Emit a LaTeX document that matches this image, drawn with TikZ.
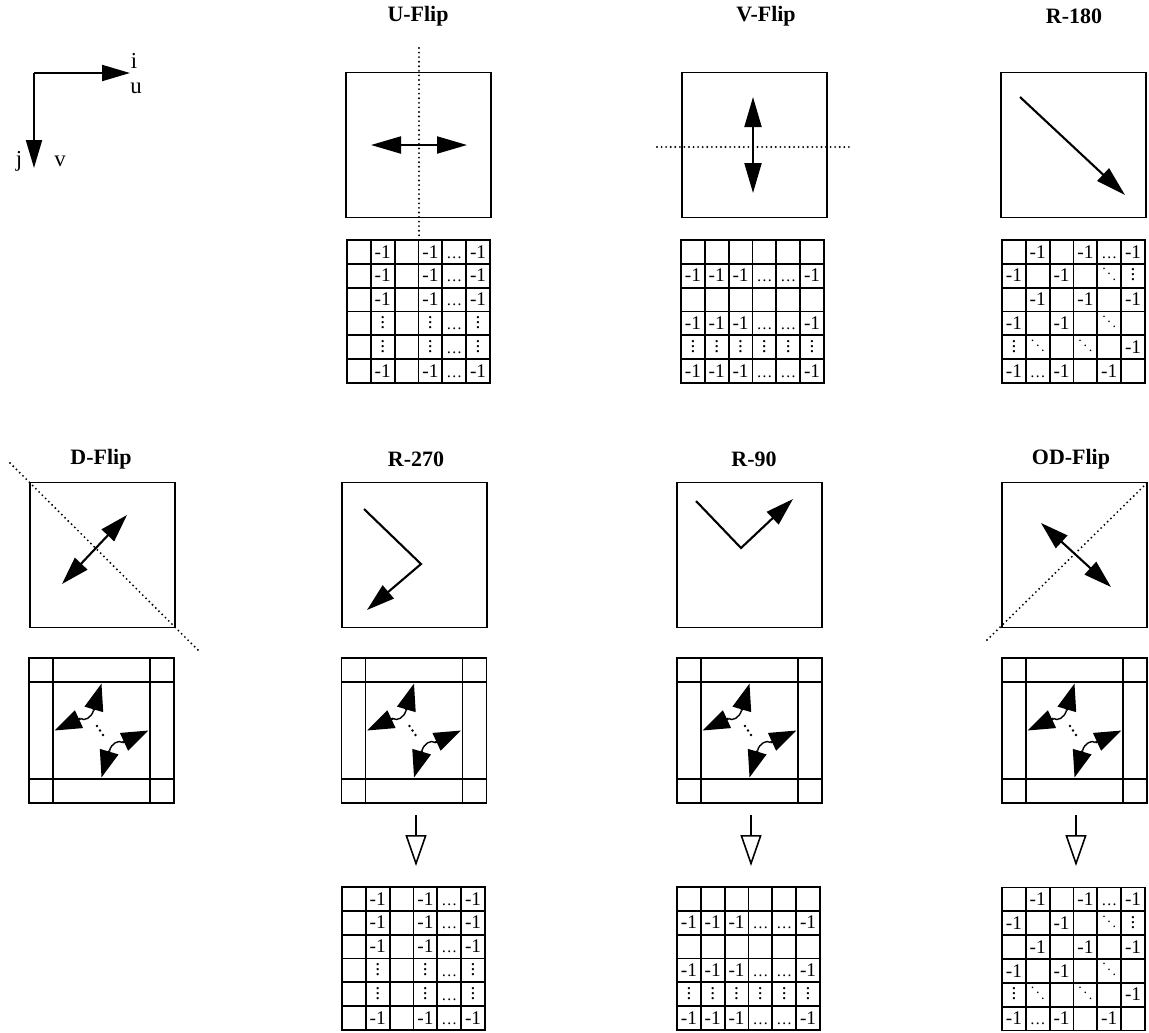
\documentclass[tikz,border=0pt]{standalone}
\usepackage{fontspec}
\setmainfont{Liberation Serif}
\usetikzlibrary{arrows.meta,calc}
\newcommand\cellfnt{\fontsize{11}{11}\selectfont}
\newcommand\vd{\raisebox{0.6pt}{\vbox{\baselineskip2.9pt\lineskiplimit-5pt\hbox{.}\hbox{.}\hbox{.}}}}
\newcommand\mydd{{\fontsize{8}{8}\selectfont$\ddots$}}
\newcommand\myel{{\fontsize{9}{9}\selectfont\ldots}}
% grid lines: #1 x0, #2 y0
\newcommand\gridlines[2]{%
  \foreach \k in {0,...,6}{%
    \draw[gl] ({#1+\k*23.83},#2) -- ++(0,143);
    \draw[gl] (#1,{#2+\k*23.83}) -- ++(143,0);}}
% one row of cells: #1 name, #2 x0, #3 y0 of grid, #4 row index, #5 list
\newcommand\cellrow[5]{%
  \foreach \t [count=\c] in {#5}{%
    \node[cell] (#1-#4-\c) at ({#2+(\c-0.5)*23.83},{#3+(#4-0.5)*23.83}) {\t};}}
\newcommand\ugrid[3]{%
  \gridlines{#2}{#3}
  \cellrow{#1}{#2}{#3}{1}{{},-1,{},-1,\myel,-1}
  \cellrow{#1}{#2}{#3}{2}{{},-1,{},-1,\myel,-1}
  \cellrow{#1}{#2}{#3}{3}{{},-1,{},-1,\myel,-1}
  \cellrow{#1}{#2}{#3}{4}{{},\vd,{},\vd,\myel,\vd}
  \cellrow{#1}{#2}{#3}{5}{{},\vd,{},\vd,\myel,\vd}
  \cellrow{#1}{#2}{#3}{6}{{},-1,{},-1,\myel,-1}}
\newcommand\vgrid[3]{%
  \gridlines{#2}{#3}
  \cellrow{#1}{#2}{#3}{2}{-1,-1,-1,\myel,\myel,-1}
  \cellrow{#1}{#2}{#3}{4}{-1,-1,-1,\myel,\myel,-1}
  \cellrow{#1}{#2}{#3}{5}{\vd,\vd,\vd,\vd,\vd,\vd}
  \cellrow{#1}{#2}{#3}{6}{-1,-1,-1,\myel,\myel,-1}}
\newcommand\rgrid[3]{%
  \gridlines{#2}{#3}
  \cellrow{#1}{#2}{#3}{1}{{},-1,{},-1,\myel,-1}
  \cellrow{#1}{#2}{#3}{2}{-1,{},-1,{},\mydd,\vd}
  \cellrow{#1}{#2}{#3}{3}{{},-1,{},-1,{},-1}
  \cellrow{#1}{#2}{#3}{4}{-1,{},-1,{},\mydd,{}}
  \cellrow{#1}{#2}{#3}{5}{\vd,\mydd,{},\mydd,{},-1}
  \cellrow{#1}{#2}{#3}{6}{-1,\myel,-1,{},-1,{}}}
\begin{document}
\begin{tikzpicture}[x=0.02cm,y=-0.02cm,
  sq/.style={draw, line width=1pt, minimum size=2.9cm, inner sep=0pt, outer sep=0pt},
  ttl/.style={font=\bfseries\fontsize{12.5}{14}\selectfont},
  axl/.style={font=\fontsize{13}{14}\selectfont, inner sep=0pt},
  shaft/.style={line width=1.2pt},
  bigtip/.tip={Triangle[length=0.6cm,width=0.34cm]},
  midtip/.tip={Triangle[length=0.56cm,width=0.34cm]},
  ftip/.tip={Triangle[length=0.54cm,width=0.38cm]},
  dotl/.style={line width=1.2pt, dash pattern=on 0pt off 2.6pt, line cap=round},
  gl/.style={line width=1.1pt, line cap=rect},
  cell/.style={inner sep=0pt, font=\cellfnt, text height=7pt, text depth=0pt},
  downarr/.style={line width=0.9pt, -{Triangle[open,length=0.62cm,width=0.42cm]}},
  frm/.pic={
    \node[sq] (-box) at (0,0) {};
    \draw[line width=1pt] (-48.5,-72.5) -- (-48.5,72.5);
    \draw[line width=1pt] (48.5,-72.5) -- (48.5,72.5);
    \draw[line width=1pt] (-72.5,-48.5) -- (72.5,-48.5);
    \draw[line width=1pt] (-72.5,48.5) -- (72.5,48.5);
    \draw[shaft, -ftip] (-21,-12) -- (-47,0);
    \draw[shaft, -ftip] (-8,-20) -- (0,-47);
    \draw[line width=0.8pt] (-21,-12) .. controls (-17,-9) and (-10,-13) .. (-8,-20);
    \draw[shaft, -ftip] (21,12) -- (47,0);
    \draw[shaft, -ftip] (8,20) -- (0,47);
    \draw[line width=0.8pt] (21,12) .. controls (17,9) and (10,13) .. (8,20);
    \fill (-4.5,-4.5) circle (1.3);
    \fill (-1.5,0) circle (1.3);
    \fill (1.5,4.5) circle (1.3);
  }]
\fill[white] (0,0) rectangle (1149,1032);
\useasboundingbox (0,0) rectangle (1149,1032);

% axes
\coordinate (o) at (34,73);
\coordinate (ox) at (130,73);
\coordinate (oy) at (34,168);
\draw[shaft, -{Triangle[length=0.56cm,width=0.32cm]}] (o) -- (ox);
\draw[shaft, -{Triangle[length=0.56cm,width=0.32cm]}] (o) -- (oy);
\node[axl] (li) at (134,61) {i};
\node[axl] (lu) at (136,88) {u};
\node[axl] (lj) at (19,161) {j};
\node[axl] (lv) at (60,161) {v};

% titles
\node[ttl] (t1) at (418,16) {U-Flip};
\node[ttl] (t2) at (766,16) {V-Flip};
\node[ttl] (t3) at (1074,16) {R-180};
\node[ttl] (t4) at (101,459) {D-Flip};
\node[ttl] (t5) at (416,459) {R-270};
\node[ttl] (t6) at (754,459) {R-90};
\node[ttl] (t7) at (1071,459) {OD-Flip};

% top squares
\node[sq] (su) at (418.5,145) {};
\node[sq] (sv) at (754.5,145) {};
\node[sq] (sr) at (1073.5,145) {};
\draw[dotl] (419,48) -- (419,242);
\draw[shaft, bigtip-bigtip] (371,145) -- (467,145);
\draw[dotl] (657,147) -- (850,147);
\draw[shaft, bigtip-bigtip] (753,97) -- (753,193);
\draw[shaft, -bigtip] (1020,97) -- (1125,195);

% second-row squares
\node[sq] (sd) at (102.5,555) {};
\node[sq] (s270) at (414.5,555) {};
\node[sq] (s90) at (749.5,555) {};
\node[sq] (sod) at (1074.5,555) {};
\draw[dotl] (10,463) -- (200,652);
\draw[shaft, midtip-midtip] (62,584) -- (127,515);
\draw[shaft, -midtip] (364,509) -- (421,564) -- (367,610);
\draw[shaft, -midtip] (696,501) -- (741,548) -- (793,499);
\draw[dotl] (987,640) -- (1149,481);
\draw[shaft, midtip-midtip] (1041,523) -- (1111,587);

% frames
\pic (f1) at (101.5,730.5) {frm};
\pic (f2) at (414,730.5) {frm};
\pic (f3) at (749.5,730.5) {frm};
\pic (f4) at (1074.5,730.5) {frm};

% down arrows
\coordinate (d1a) at (416,815); \coordinate (d1b) at (416,866);
\coordinate (d2a) at (751,815); \coordinate (d2b) at (751,866);
\coordinate (d3a) at (1076,815); \coordinate (d3b) at (1076,866);
\draw[downarr] (d1a) -- (d1b);
\draw[downarr] (d2a) -- (d2b);
\draw[downarr] (d3a) -- (d3b);

% grids
\ugrid{g1}{347}{240}
\vgrid{g2}{681}{240}
\rgrid{g3}{1002}{240}
\ugrid{g4}{342}{887}
\vgrid{g5}{677}{887}
\rgrid{g6}{1002}{887.5}
\end{tikzpicture}
\end{document}
